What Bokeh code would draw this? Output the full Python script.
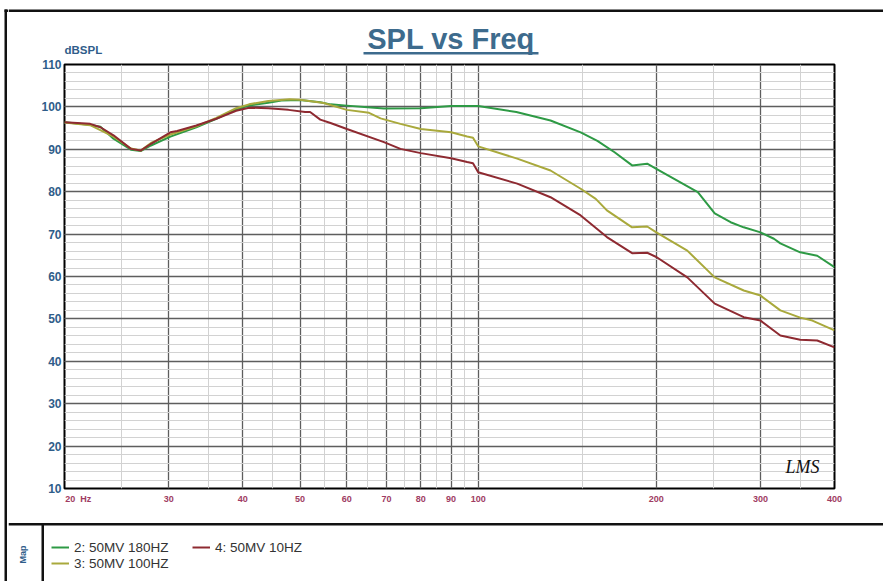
import math
from bokeh.plotting import figure
from bokeh.layouts import row, column
from bokeh.models import (FixedTicker, SingleIntervalTicker, Label, Legend, LegendItem,
                          Range1d, NumeralTickFormatter)
from bokeh.core.properties import value
from bokeh.embed import file_html
from bokeh.resources import INLINE

# ---------------- data ----------------
freq_180 = [20, 22, 23, 24.2, 25.9, 26.9, 28, 30.2, 33.4, 36.1, 39, 41, 44.2, 46.5, 50,
            54.1, 56.3, 60, 65, 69.3, 80, 90, 100, 116, 132.5, 149, 159, 170, 182, 193,
            200, 235, 251, 267, 281, 300, 316, 324, 350, 374, 400]
spl_180 = [96.4, 95.8, 95.3, 92.5, 89.9, 89.6, 90.9, 93.0, 95.2, 97.2, 99.4, 100.3, 101.0,
           101.5, 101.6, 101.1, 100.6, 100.3, 99.9, 99.6, 99.7, 100.2, 100.2, 98.8, 96.8,
           94.0, 92.0, 89.3, 86.2, 86.6, 85.4, 79.9, 74.9, 72.8, 71.6, 70.4, 68.9, 67.8,
           65.7, 64.9, 62.2]

freq_100 = [20, 22.1, 24.2, 25.9, 26.9, 28, 30.2, 33.4, 36.1, 39, 41, 44.2, 48, 50, 54.8,
            60, 65.4, 68.4, 73.9, 80, 90, 95.8, 98, 100, 116.4, 132.5, 149, 158, 165, 182,
            193, 200, 225.6, 251, 281, 300, 324, 350, 367, 400]
spl_100 = [96.3, 95.7, 93.0, 90.2, 89.7, 91.5, 93.5, 95.4, 97.4, 99.7, 100.6, 101.4, 101.8,
           101.7, 100.9, 99.3, 98.6, 97.3, 96.0, 94.8, 94.0, 93.0, 92.7, 90.7, 87.8, 85.0,
           80.7, 78.3, 75.6, 71.6, 71.8, 70.4, 66.1, 59.8, 56.7, 55.5, 52.0, 50.3, 49.6, 47.3]

freq_10 = [20, 22.1, 23, 24.2, 25.9, 26.9, 28, 30.2, 31, 33.4, 36.1, 39, 41, 44.2, 47.8, 51,
           52, 54.1, 56.3, 60, 69.3, 73.9, 80, 90, 95.8, 98, 100, 116.4, 132.5, 149, 165,
           182, 193, 200, 225.6, 251, 281, 300, 324, 350, 374, 400]
spl_10 = [96.4, 96.0, 95.2, 93.3, 90.1, 89.7, 91.3, 94.0, 94.3, 95.6, 97.2, 99.1, 99.8, 99.7,
          99.3, 98.8, 98.8, 97.0, 96.2, 94.8, 91.7, 90.1, 89.1, 87.9, 87.0, 86.7, 84.6, 81.9,
          78.7, 74.4, 69.3, 65.5, 65.6, 64.6, 59.8, 53.6, 50.4, 49.6, 46.1, 45.1, 44.9, 43.3]

x_major = [20, 30, 40, 50, 60, 70, 80, 90, 100, 200, 300, 400]
x_minor = [25, 35, 45, 55, 65, 75, 85, 95, 150, 250, 350]
first_tick_label = "\u00a0" * 11 + "20\u00a0\u00a0Hz"
series_labels = ["2: 50MV 180HZ", "3: 50MV 100HZ", "4: 50MV 10HZ"]
series_colors = ["#2e9a45", "#a9a93c", "#8e2a31"]
chart_title = "SPL vs Freq"
y_title = "dBSPL"
panel_title = "Map"
logo_text = "LMS"

BLUE = "#2f5d8a"
TITLE_BLUE = "#3d6b8d"
XLAB = "#a03c62"
FRAME = "#111111"
FONT = value("Liberation Sans")


def blank(width, height, x0, x1, y0, y1):
    """A figure whose frame covers the whole canvas, in page pixel coordinates."""
    f = figure(width=width, height=height, x_range=Range1d(x0, x1), y_range=Range1d(y1, y0),
               output_backend="svg", toolbar_location=None,
               x_axis_location=None, y_axis_location=None, min_border=0,
               frame_align=False)
    f.grid.visible = False
    f.outline_line_color = None
    f.background_fill_color = "white"
    f.border_fill_color = "white"
    return f


# ---------------- left strip (outer border) ----------------
strip = blank(8, 581, 0, 8, 0, 581)
strip.quad(left=[4, 4], right=[6.5, 8], top=[9, 9], bottom=[581, 11.5],
           fill_color=FRAME, line_color=None)

# ---------------- header ----------------
head = blank(875, 57, 8, 883, 0, 57)
head.quad(left=[8], right=[883], top=[9], bottom=[11.5], fill_color=FRAME, line_color=None)
head.text(x=[450.5], y=[38], text=[chart_title], text_align="center",
          text_baseline="middle", text_font=FONT, text_font_size="29px",
          text_font_style="bold", text_color=TITLE_BLUE)
head.quad(left=[363], right=[538], top=[51.5], bottom=[54], fill_color=TITLE_BLUE,
          line_color=None)
head.text(x=[64], y=[49.5], text=[y_title], text_align="left", text_baseline="middle",
          text_font=FONT, text_font_size="11.5px", text_font_style="bold", text_color=BLUE)

# ---------------- main chart ----------------
p = figure(width=875, height=459, x_axis_type="log",
           x_range=Range1d(20, 400), y_range=Range1d(10, 110),
           output_backend="svg", toolbar_location=None, frame_align=False,
           min_border_left=56, min_border_right=49, min_border_top=7, min_border_bottom=28)
p.background_fill_color = "white"
p.border_fill_color = "white"
p.outline_line_color = "black"
p.outline_line_width = 2

xt = FixedTicker(ticks=x_major, minor_ticks=x_minor)
p.xaxis.ticker = xt
p.xgrid.ticker = xt
p.xaxis.formatter = NumeralTickFormatter(format="0")
p.xaxis.major_label_overrides = {20: first_tick_label}
yt = SingleIntervalTicker(interval=10, num_minor_ticks=5)
p.yaxis.ticker = yt
p.ygrid.ticker = yt

for ax in (p.xaxis, p.yaxis):
    ax.axis_line_color = None
    ax.major_tick_line_color = None
    ax.minor_tick_line_color = None
    ax.major_tick_out = 0
    ax.minor_tick_out = 0
    ax.major_tick_in = 0
    ax.minor_tick_in = 0
    ax.major_label_text_font = "Liberation Sans"
    ax.major_label_text_font_style = "bold"

p.yaxis.major_label_text_color = BLUE
p.yaxis.major_label_text_font_size = "12px"
p.yaxis.major_label_standoff = 3
p.xaxis.major_label_text_color = XLAB
p.xaxis.major_label_text_font_size = "9px"
p.xaxis.major_label_standoff = 5

for g in (p.xgrid, p.ygrid):
    g.grid_line_color = "#5e5e5e"
    g.grid_line_width = 1.3
    g.minor_grid_line_color = "#d2d2d2"
    g.minor_grid_line_width = 1

r1 = p.line(freq_180, spl_180, line_color=series_colors[0], line_width=2)
r2 = p.line(freq_100, spl_100, line_color=series_colors[1], line_width=2)
r3 = p.line(freq_10, spl_10, line_color=series_colors[2], line_width=2)

p.add_layout(Label(x=794, y=409, x_units="canvas", y_units="canvas", text=logo_text,
                   text_align="center", text_baseline="middle",
                   text_font="Liberation Serif", text_font_size="18px",
                   text_font_style="italic", text_color=FRAME))

# ---------------- bottom "Map" panel with legend ----------------
bot = blank(875, 65, 8, 883, 516, 581)
bot.quad(left=[8, 41], right=[883, 43.5], top=[522.5, 524], bottom=[525, 581],
         fill_color=FRAME, line_color=None)
bot.text(x=[22], y=[554], text=[panel_title], angle=math.pi / 2, text_align="center",
         text_baseline="middle", text_font=FONT, text_font_size="9px",
         text_font_style="bold", text_color=BLUE)

# legend samples: the same series, lying outside this panel's visible range
s1 = bot.line(freq_180, spl_180, line_color=series_colors[0], line_width=2)
s2 = bot.line(freq_100, spl_100, line_color=series_colors[1], line_width=2)
s3 = bot.line(freq_10, spl_10, line_color=series_colors[2], line_width=2)


def mk_legend(items, loc):
    lg = Legend(items=items, location=loc, orientation="vertical",
                background_fill_alpha=0, border_line_color=None,
                padding=0, margin=0, spacing=0,
                label_text_font="Liberation Sans", label_text_font_size="13.5px",
                label_text_color="#333333", label_height=16, glyph_height=16,
                glyph_width=18, label_standoff=5)
    bot.add_layout(lg)


mk_legend([LegendItem(label=series_labels[0], renderers=[s1]),
           LegendItem(label=series_labels[1], renderers=[s2])], (43, 10))
mk_legend([LegendItem(label=series_labels[2], renderers=[s3])], (184, 26))

layout = row(strip, column(head, p, bot, spacing=0), spacing=0)

open("out.html", "w").write(file_html(layout, INLINE))
